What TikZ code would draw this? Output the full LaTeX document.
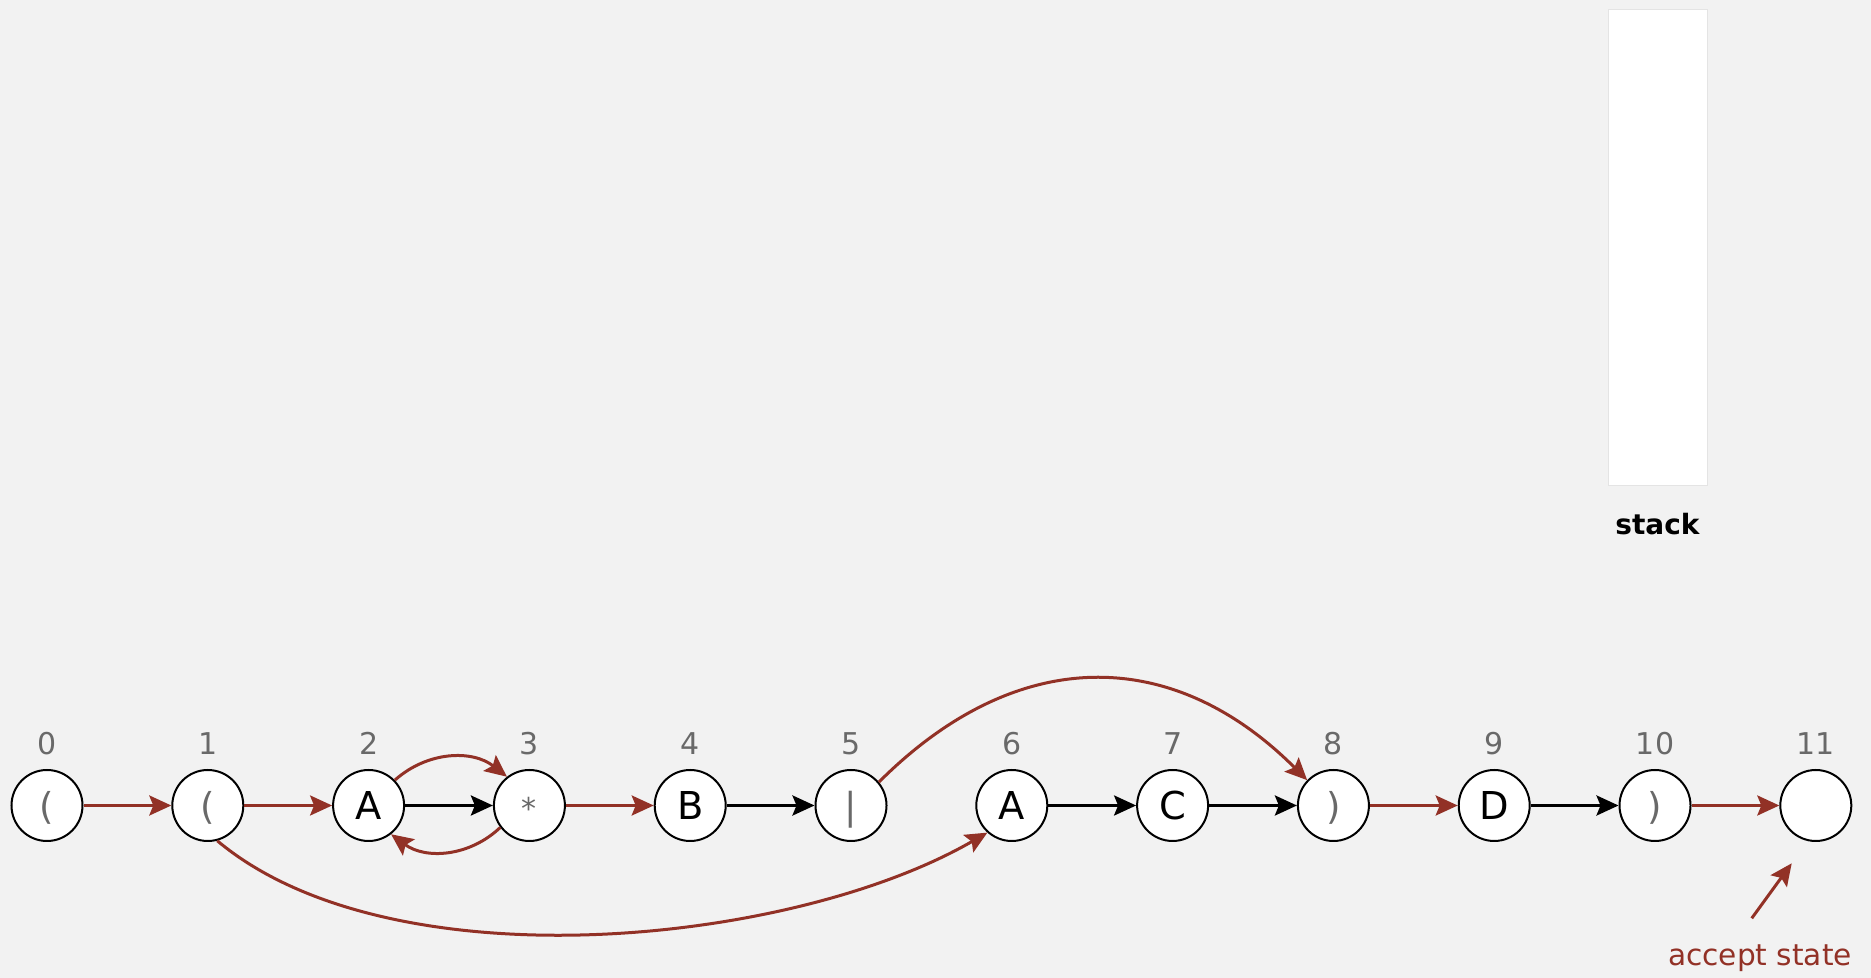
\documentclass[tikz,border=0pt]{standalone}
\usepackage{fontspec}
\setmainfont{DejaVu Sans}
\usetikzlibrary{arrows.meta,positioning}
\definecolor{bgcol}{RGB}{242,242,242}
\definecolor{nfared}{RGB}{146,49,38}
\definecolor{metagray}{RGB}{105,105,105}
\definecolor{stackgray}{RGB}{228,228,228}

\begin{document}
\begin{tikzpicture}[x=0.5pt, y=0.5pt, node distance=43.9pt]
\tikzstyle{state}=[circle, draw=black, line width=1pt, fill=white, minimum size=35.5pt, inner sep=0pt, text height=14pt, text depth=0pt, font=\fontsize{19.2pt}{23pt}\selectfont]
\tikzstyle{meta}=[text=metagray, font=\fontsize{18.5pt}{22pt}\selectfont]
\tikzstyle{numlab}=[inner sep=0pt, text=metagray, font=\fontsize{15pt}{18pt}\selectfont]
\tikzstyle{redarrow}=[-{Stealth[length=11pt, width=10pt, inset=2pt]}, line width=1.5pt, draw=nfared]
\tikzstyle{blackarrow}=[-{Stealth[length=11pt, width=10pt, inset=2pt]}, line width=1.6pt, draw=black]
\path[use as bounding box, fill=bgcol] (0,0) rectangle (1871,978);
% NFA states
\node (s0) [state, meta] at (47,172.5) {(};
\node (s1) [state, meta, right=of s0] {(};
\node (s2) [state, right=of s1] {A};
\node (s3) [state, meta, font=\fontsize{15pt}{18pt}\selectfont, right=of s2] {*};
\node (s4) [state, right=of s3] {B};
\node (s5) [state, meta, right=of s4] {|};
\node (s6) [state, right=of s5] {A};
\node (s7) [state, right=of s6] {C};
\node (s8) [state, meta, right=of s7] {)};
\node (s9) [state, right=of s8] {D};
\node (s10) [state, meta, right=of s9] {)};
\node (s11) [state, right=of s10] {};
\foreach \i in {0,...,11}
  \node (l\i) [numlab, above=7pt of s\i] {\i};
% match and epsilon transitions
\draw[redarrow] (s0) -- (s1);
\draw[redarrow] (s1) -- (s2);
\draw[blackarrow] (s2) -- (s3);
\draw[redarrow] (s3) -- (s4);
\draw[blackarrow] (s4) -- (s5);
\draw[blackarrow] (s6) -- (s7);
\draw[blackarrow] (s7) -- (s8);
\draw[redarrow] (s8) -- (s9);
\draw[blackarrow] (s9) -- (s10);
\draw[redarrow] (s10) -- (s11);
\draw[redarrow] (s2.44) to[bend left=40] (s3.128);
\draw[redarrow] (s3.217) to[bend left=40] (s2.-52);
\draw[redarrow] (s1.-75) to[out=-40, in=-150, looseness=0.75] (s6.-132);
\draw[redarrow] (s5.40) to[out=45, in=135, looseness=1.15] (s8.136);
% stack
\node (stack) [draw=stackgray, line width=0.5pt, fill=white, minimum width=49.5pt, minimum height=238pt, inner sep=0pt] at (1657.5,730) {};
\node (stacklab) [below=13pt of stack, inner sep=0pt, font=\bfseries\fontsize{14pt}{17pt}\selectfont] {stack};
% accept state
\node (acc) [anchor=base, text=nfared, inner sep=0pt, font=\fontsize{14.8pt}{18pt}\selectfont] at (1760,12) {accept state};
\coordinate (acctail) at (1751.7,59.7);
\coordinate (acctip) at (1791.7,114.7);
\draw[redarrow] (acctail) -- (acctip);
\end{tikzpicture}
\end{document}
